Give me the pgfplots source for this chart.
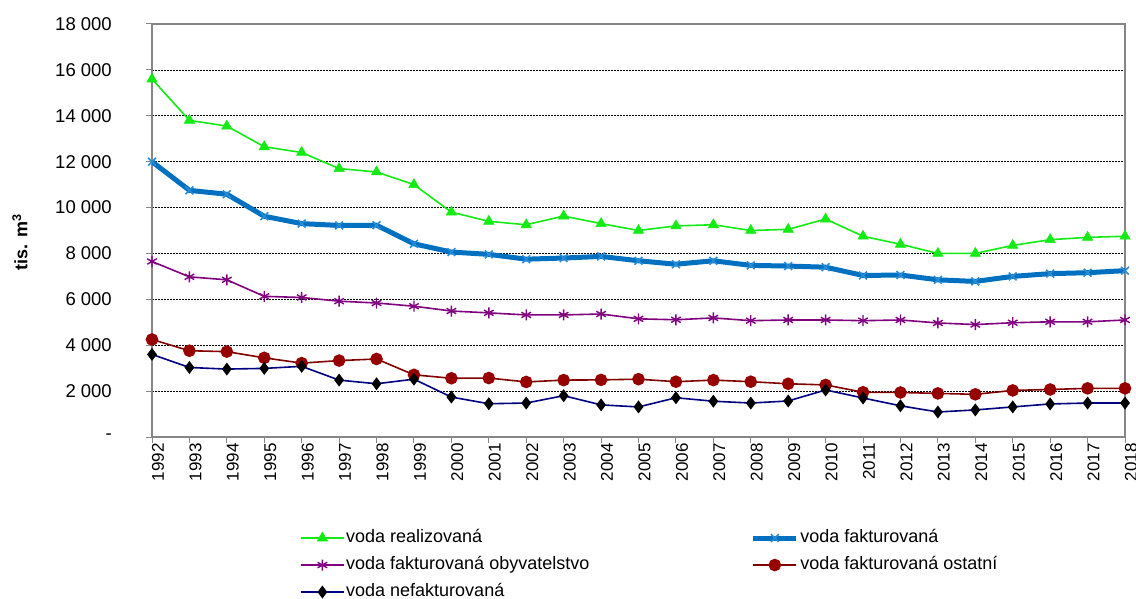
\documentclass[border=0pt]{standalone}
\usepackage{pgfplots}
\usepackage{pgfplotstable}
\pgfplotsset{compat=1.18}
\usepackage{fontspec}
\setmainfont{Liberation Sans}

\definecolor{cgreen}{RGB}{20,235,20}
\definecolor{cblue}{RGB}{0,112,192}
\definecolor{cbluemark}{RGB}{40,140,215}
\definecolor{cpurple}{RGB}{128,0,128}
\definecolor{cred}{RGB}{128,0,0}
\definecolor{credmark}{RGB}{150,0,0}
\definecolor{cnavy}{RGB}{0,0,128}
\definecolor{caxis}{RGB}{134,134,134}

\pgfplotstableread{
year real fakt obyv ostat nefakt
1992 15600 12000 7650 4250 3600
1993 13800 10750 6980 3760 3030
1994 13550 10580 6850 3720 2960
1995 12650 9620 6130 3450 2990
1996 12400 9300 6080 3220 3080
1997 11700 9220 5920 3330 2480
1998 11550 9230 5840 3400 2320
1999 11000 8420 5700 2710 2520
2000 9800 8060 5490 2560 1740
2001 9400 7960 5410 2570 1450
2002 9250 7750 5320 2400 1480
2003 9630 7800 5320 2480 1800
2004 9300 7870 5360 2490 1400
2005 9000 7680 5150 2520 1310
2006 9200 7530 5110 2410 1710
2007 9250 7680 5190 2480 1560
2008 9000 7480 5070 2410 1480
2009 9050 7450 5100 2320 1570
2010 9500 7400 5100 2270 2050
2011 8750 7040 5070 1950 1700
2012 8400 7060 5100 1940 1360
2013 8000 6850 4970 1900 1090
2014 8000 6780 4900 1860 1180
2015 8350 7000 4980 2030 1310
2016 8600 7120 5020 2070 1440
2017 8700 7160 5020 2120 1480
2018 8750 7250 5100 2120 1480
}\datatable

\begin{document}
\begin{tikzpicture}
\path[use as bounding box] (0bp,0bp) rectangle (1136bp,599bp);
\begin{axis}[
  at={(152bp,162bp)}, anchor=south west,
  scale only axis, width=973bp, height=413bp,
  xmin=1992, xmax=2018, ymin=0, ymax=18000,
  scaled y ticks=false, scaled x ticks=false,
  xtick={1992,1993,...,2018},
  xticklabels={1992,1993,1994,1995,1996,1997,1998,1999,2000,2001,2002,2003,2004,2005,2006,2007,2008,2009,2010,2011,2012,2013,2014,2015,2016,2017,2018},
  ytick={0,2000,...,18000},
  yticklabels={-,2 000,4 000,6 000,8 000,10 000,12 000,14 000,16 000,18 000},
  /pgf/number format/assume math mode=true,
  xtick pos=bottom, ytick pos=left,
  tick align=outside, major tick length=6bp,
  tick style={caxis, line width=1bp},
  axis line style={caxis, line width=1.2bp},
  ymajorgrids,
  major grid style={black, line width=0.6bp, dash pattern=on 1.8bp off 1.2bp},
  xticklabel style={rotate=90, anchor=east, inner sep=0pt, yshift=-6bp, font=\fontsize{17bp}{19bp}\selectfont},
  yticklabel style={anchor=east, inner sep=0pt, xshift=-34bp, font=\fontsize{18.5bp}{20bp}\selectfont},
  ylabel={\textbf{tis. m\textsuperscript{3}}},
  ylabel style={at={(axis description cs:-0.1357,0.472)}, anchor=center, font=\fontsize{18bp}{20bp}\selectfont},
  legend columns=2,
  legend style={at={(axis description cs:0.152,-0.220)}, anchor=north west, draw=none, fill=none,
    inner sep=0pt, row sep=7bp,
    font=\fontsize{18bp}{20bp}\selectfont,
    nodes={inner sep=1.5bp, text height=13bp, text depth=4bp, anchor=west},
    /tikz/every even column/.append style={column sep=160bp}},
  legend image code/.code={\draw[mark repeat=2,mark phase=2,#1] plot coordinates {(0bp,0bp)(21.5bp,0bp)(43bp,0bp)};},
]
\addplot[cgreen, line width=1.6bp, mark=triangle*, mark size=6bp, mark options={fill=cgreen, draw=cgreen, line width=0.5bp}] table[x=year,y=real] {\datatable};
\addlegendentry{voda realizovaná}
\addplot[cblue, line width=5bp, mark=x, mark size=5.5bp, mark options={draw=cbluemark, line width=1.6bp}] table[x=year,y=fakt] {\datatable};
\addlegendentry{voda fakturovaná}
\addplot[cpurple, line width=1.6bp, mark=asterisk, mark size=5.5bp, mark options={line width=1.4bp}] table[x=year,y=obyv] {\datatable};
\addlegendentry{voda fakturovaná obyvatelstvo}
\addplot[cred, line width=1.6bp, mark=*, mark size=5.5bp, mark options={fill=credmark, draw=credmark}] table[x=year,y=ostat] {\datatable};
\addlegendentry{voda fakturovaná ostatní}
\addplot[cnavy, line width=1.6bp, mark=diamond*, mark size=5.2bp, mark options={fill=black, draw=black}] table[x=year,y=nefakt] {\datatable};
\addlegendentry{voda nefakturovaná}
\end{axis}
\end{tikzpicture}
\end{document}
